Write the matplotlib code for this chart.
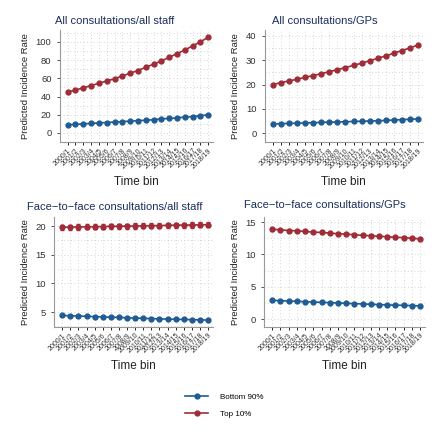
import matplotlib
matplotlib.use("Agg")
import matplotlib.pyplot as plt
from matplotlib.lines import Line2D
from matplotlib.ticker import MultipleLocator

plt.rcParams["font.family"] = ["Liberation Sans", "DejaVu Sans"]

bins = ["2000/1", "2001/2", "2002/3", "2003/4", "2004/5", "2005/6", "2006/7",
        "2007/8", "2008/9", "2009/10", "2010/11", "2011/12", "2012/13",
        "2013/14", "2014/15", "2015/16", "2016/17", "2017/18", "2018/19"]

all_staff_top = [45, 47, 49.5, 52, 54.5, 57, 59.5, 62.5, 65.5, 68.5, 72,
                 75.5, 79, 83, 87, 91, 95.5, 100, 105]
all_staff_bot = [9, 9.5, 10, 10.5, 11, 11.5, 12, 12.5, 13, 13.5, 14, 14.5,
                 15.5, 16, 16.5, 17.5, 18, 19, 20]

all_gp_top = [20, 20.8, 21.5, 22.2, 23, 23.7, 24.5, 25.3, 26.1, 27, 27.9,
              28.8, 29.8, 30.8, 31.8, 32.9, 34, 35.1, 36.3]
all_gp_bot = [3.8, 3.9, 4.0, 4.1, 4.2, 4.3, 4.4, 4.5, 4.6, 4.7, 4.8, 4.9,
              5.0, 5.1, 5.25, 5.4, 5.55, 5.7, 5.85]

f2f_staff_top = [19.8, 19.82, 19.85, 19.87, 19.9, 19.92, 19.95, 19.97, 20.0,
                 20.02, 20.05, 20.07, 20.1, 20.12, 20.15, 20.17, 20.2, 20.22,
                 20.25]
f2f_staff_bot = [4.4, 4.35, 4.3, 4.25, 4.2, 4.15, 4.1, 4.05, 4.0, 3.95, 3.9,
                 3.85, 3.8, 3.77, 3.73, 3.7, 3.67, 3.63, 3.6]

f2f_gp_top = [13.9, 13.8, 13.7, 13.65, 13.55, 13.45, 13.4, 13.3, 13.2, 13.15,
              13.05, 12.95, 12.9, 12.8, 12.75, 12.65, 12.6, 12.5, 12.4]
f2f_gp_bot = [2.9, 2.85, 2.8, 2.75, 2.7, 2.65, 2.6, 2.55, 2.5, 2.45, 2.4,
              2.35, 2.3, 2.25, 2.2, 2.17, 2.13, 2.1, 2.05]

titles = ["All consultations/all staff", "All consultations/GPs",
          "Face\u2212to\u2212face consultations/all staff",
          "Face\u2212to\u2212face consultations/GPs"]

BLUE = "#1f5b94"
RED = "#a02c38"
NAVY = "#1c2e5e"

fig = plt.figure(figsize=(4.4, 4.4), dpi=100)

# axes rect, top, bottom, ylim, tick step, ci half-width, title centre (x, y)
panels = [
    ([0.136, 0.677, 0.348, 0.255], all_staff_top, all_staff_bot, (-10, 113), 20, 1.2, (0.261, 0.953)),
    ([0.602, 0.677, 0.359, 0.255], all_gp_top, all_gp_bot, (-3.7, 42.5), 10, 0.4, (0.739, 0.953)),
    ([0.123, 0.257, 0.361, 0.25], f2f_staff_top, f2f_staff_bot, (2.4, 21.6), 5, 0.45, (0.261, 0.530)),
    ([0.600, 0.257, 0.366, 0.25], f2f_gp_top, f2f_gp_bot, (-1.2, 15.8), 5, 0.2, (0.739, 0.533)),
]

x = list(range(len(bins)))
for (rect, top, bot, ylim, step, ci, tpos), title in zip(panels, titles):
    ax = fig.add_axes(rect)
    ax.errorbar(x, bot, yerr=ci * 0.25, color=BLUE, marker="o", ms=3.5,
                lw=1.2, capsize=1.2, elinewidth=0.6)
    ax.errorbar(x, top, yerr=ci, color=RED, marker="o", ms=3.5,
                lw=1.2, capsize=1.2, elinewidth=0.6)
    ax.set_xlim(-1, 18.6)
    ax.set_ylim(*ylim)
    ax.yaxis.set_major_locator(MultipleLocator(step))
    ax.yaxis.set_minor_locator(MultipleLocator(step / 2))
    ax.set_xticks(x)
    ax.set_xticklabels(bins, rotation=45, ha="right", rotation_mode="anchor",
                       fontsize=5, color="#333333")
    ax.tick_params(axis="y", labelsize=6.8, colors="#333333", length=2.5,
                   width=0.6)
    ax.tick_params(axis="x", length=2.5, width=0.6, pad=1)
    ax.tick_params(axis="y", which="minor", length=0)
    ax.grid(True, which="both", linestyle=(0, (1, 3)), color="#c8c8c8",
            linewidth=0.6)
    ax.set_axisbelow(True)
    for s in ["top", "right"]:
        ax.spines[s].set_visible(False)
    for s in ["left", "bottom"]:
        ax.spines[s].set_color("#999999")
        ax.spines[s].set_linewidth(0.8)
    fig.text(tpos[0], tpos[1], title, fontsize=8.0, color=NAVY,
             ha="center", va="center")
    ax.set_ylabel("Predicted Incidence Rate", fontsize=6.8, color="#222222")
    ax.set_xlabel("Time bin", fontsize=8.5, color="#222222", labelpad=4)

handles = [Line2D([], [], color=BLUE, marker="o", ms=3.5, lw=1.2),
           Line2D([], [], color=RED, marker="o", ms=3.5, lw=1.2)]
fig.legend(handles, ["Bottom 90%", "Top 10%"], loc="center left",
           bbox_to_anchor=(0.405, 0.078), frameon=False, fontsize=5.8,
           handlelength=2.8, labelspacing=1.1, handletextpad=1.5)

fig.savefig("out.png", dpi=100, facecolor="white")
